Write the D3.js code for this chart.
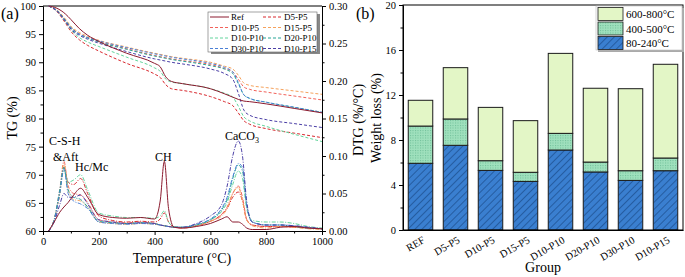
<!DOCTYPE html>
<html>
<head>
<meta charset="utf-8">
<script src="https://cdn.jsdelivr.net/npm/d3@7"></script>
<style>
  body { margin: 0; background: #fff; }
  svg text { font-family: "Liberation Serif", "DejaVu Serif", serif; }
  .tick text { font-size: 10.5px; }
</style>
</head>
<body>
<div id="chart"></div>
<script>
// ---- data, panel (a) ----
var seriesNames = ["Ref", "D5-P5", "D10-P5", "D15-P5", "D10-P10", "D20-P10", "D30-P10", "D10-P15"];
var seriesColors = ["#8b1a2e", "#d8282e", "#f2625a", "#f6a25c", "#62d49c", "#26a596", "#4a80d6", "#4b3fa6"];

var tgTemps = [20, 50, 80, 100, 130, 160, 200, 300, 400, 420, 440, 460, 500, 600, 650, 680, 700, 720, 740, 800, 900, 1000];
var tgRef    = [100, 99.6, 98.6, 97.6, 96.0, 94.8, 93.7, 91.6, 89.8, 89.2, 87.4, 86.6, 86.2, 85.3, 84.4, 83.8, 83.4, 83.1, 83.0, 82.6, 81.8, 81.0];
var tgD5P5   = [100, 99.0, 97.0, 95.5, 94.0, 93.0, 92.0, 89.8, 87.9, 87.3, 86.0, 85.3, 85.0, 83.9, 83.0, 82.3, 81.0, 79.6, 79.0, 78.2, 77.4, 76.6];
var tgD10P5  = [100, 99.2, 97.5, 96.2, 95.1, 94.4, 93.7, 92.4, 91.2, 91.0, 90.8, 90.6, 90.3, 89.6, 88.9, 88.3, 87.0, 85.6, 85.2, 84.7, 84.0, 83.3];
var tgD15P5  = [100, 99.3, 97.7, 96.4, 95.3, 94.6, 93.9, 92.7, 91.6, 91.4, 91.2, 91.0, 90.7, 90.0, 89.3, 88.8, 87.7, 86.3, 85.9, 85.5, 84.9, 84.3];
var tgD10P10 = [100, 99.1, 97.2, 95.8, 94.4, 93.6, 92.8, 90.9, 89.0, 88.4, 87.0, 86.5, 86.2, 85.3, 84.5, 83.8, 82.2, 80.3, 79.6, 78.6, 77.2, 75.9];
var tgD20P10 = [100, 99.2, 97.5, 96.2, 95.0, 94.3, 93.6, 92.3, 91.1, 90.9, 90.7, 90.5, 90.2, 89.4, 88.8, 88.0, 86.2, 84.2, 83.6, 82.9, 82.0, 81.1];
var tgD30P10 = [100, 99.2, 97.4, 96.1, 95.0, 94.4, 93.8, 92.6, 91.5, 91.3, 91.1, 90.9, 90.6, 89.8, 89.1, 88.3, 86.4, 84.2, 83.6, 82.9, 82.0, 81.1];
var tgD10P15 = [100, 99.1, 97.3, 95.9, 94.8, 94.1, 93.4, 91.9, 90.6, 90.4, 90.2, 90.0, 89.7, 88.8, 88.0, 87.0, 84.5, 81.5, 80.6, 79.8, 79.1, 78.4];

var dtgTemps = [20, 40, 60, 75, 90, 110, 135, 160, 200, 250, 300, 350, 400, 420, 435, 450, 470, 500, 550, 600, 640, 660, 680, 700, 715, 730, 750, 800, 850, 900, 950, 1000];
var dtgRef    = [0, 0.012, 0.025, 0.032, 0.038, 0.048, 0.057, 0.045, 0.022, 0.018, 0.017, 0.018, 0.016, 0.04, 0.093, 0.03, 0.005, 0.004, 0.006, 0.01, 0.016, 0.019, 0.012, 0.012, 0.009, 0.004, 0.002, 0.002, 0.005, 0.006, 0.004, 0.003];
var dtgD5P5   = [0, 0.015, 0.05, 0.085, 0.065, 0.062, 0.07, 0.05, 0.02, 0.014, 0.012, 0.013, 0.012, 0.016, 0.024, 0.012, 0.005, 0.004, 0.007, 0.013, 0.022, 0.03, 0.045, 0.052, 0.04, 0.015, 0.008, 0.006, 0.006, 0.005, 0.004, 0.003];
var dtgD10P5  = [0, 0.015, 0.055, 0.093, 0.06, 0.05, 0.048, 0.038, 0.015, 0.012, 0.011, 0.012, 0.01, 0.008, 0.007, 0.006, 0.005, 0.004, 0.007, 0.013, 0.022, 0.032, 0.05, 0.06, 0.045, 0.016, 0.008, 0.006, 0.006, 0.005, 0.004, 0.003];
var dtgD15P5  = [0, 0.015, 0.05, 0.09, 0.055, 0.042, 0.04, 0.032, 0.012, 0.01, 0.009, 0.01, 0.009, 0.008, 0.007, 0.006, 0.005, 0.004, 0.007, 0.013, 0.02, 0.03, 0.05, 0.058, 0.04, 0.015, 0.007, 0.004, 0.006, 0.005, 0.003, 0.002];
var dtgD10P10 = [0, 0.015, 0.05, 0.082, 0.065, 0.068, 0.075, 0.055, 0.024, 0.02, 0.018, 0.018, 0.017, 0.02, 0.027, 0.012, 0.006, 0.005, 0.008, 0.015, 0.026, 0.038, 0.062, 0.08, 0.07, 0.03, 0.014, 0.012, 0.012, 0.01, 0.006, 0.004];
var dtgD20P10 = [0, 0.015, 0.055, 0.085, 0.055, 0.045, 0.042, 0.032, 0.013, 0.011, 0.01, 0.011, 0.01, 0.008, 0.007, 0.006, 0.005, 0.005, 0.008, 0.015, 0.028, 0.042, 0.07, 0.088, 0.08, 0.035, 0.012, 0.008, 0.008, 0.006, 0.004, 0.003];
var dtgD30P10 = [0, 0.014, 0.05, 0.083, 0.05, 0.04, 0.036, 0.03, 0.012, 0.01, 0.009, 0.01, 0.009, 0.008, 0.007, 0.006, 0.005, 0.005, 0.009, 0.016, 0.03, 0.045, 0.072, 0.09, 0.085, 0.035, 0.012, 0.008, 0.008, 0.007, 0.005, 0.003];
var dtgD10P15 = [0, 0.012, 0.035, 0.05, 0.045, 0.045, 0.048, 0.036, 0.015, 0.012, 0.01, 0.011, 0.01, 0.008, 0.007, 0.006, 0.005, 0.005, 0.01, 0.02, 0.035, 0.06, 0.1, 0.12, 0.1, 0.04, 0.012, 0.008, 0.008, 0.007, 0.005, 0.003];

var tgSeries = [tgRef, tgD5P5, tgD10P5, tgD15P5, tgD10P10, tgD20P10, tgD30P10, tgD10P15];
var dtgSeries = [dtgRef, dtgD5P5, dtgD10P5, dtgD15P5, dtgD10P10, dtgD20P10, dtgD30P10, dtgD10P15];

// ---- data, panel (b) ----
var groups = ["REF", "D5-P5", "D10-P5", "D15-P5", "D10-P10", "D20-P10", "D30-P10", "D10-P15"];
var loss80_240  = [5.93, 7.53, 5.30, 4.32, 7.11, 5.16, 4.41, 5.27];
var loss400_500 = [3.31, 2.34, 0.86, 0.81, 1.48, 0.88, 0.86, 1.13];
var loss600_800 = [2.29, 4.56, 4.74, 4.59, 7.11, 6.56, 7.29, 8.33];
var rangeKeys = ["80-240\u00b0C", "400-500\u00b0C", "600-800\u00b0C"];

var W = 685, H = 277;
var svg = d3.select("#chart").append("svg").attr("width", W).attr("height", H);

var defs = svg.append("defs");
var hatch = defs.append("pattern").attr("id", "hatch").attr("patternUnits", "userSpaceOnUse")
  .attr("width", 5).attr("height", 5).attr("patternTransform", "rotate(45)");
hatch.append("rect").attr("width", 5).attr("height", 5).attr("fill", "#3a7fd0");
hatch.append("line").attr("x1", 0).attr("y1", 0).attr("x2", 0).attr("y2", 5)
  .attr("stroke", "#1c4c8c").attr("stroke-width", 1.4);
var dots = defs.append("pattern").attr("id", "dots").attr("patternUnits", "userSpaceOnUse")
  .attr("width", 2.5).attr("height", 2.5);
dots.append("rect").attr("width", 2.5).attr("height", 2.5).attr("fill", "#9fe0bd");
dots.append("rect").attr("width", 1).attr("height", 1).attr("fill", "#6fbf98");

// ===== panel (a) =====
var ax = {l: 43, r: 322, t: 6, b: 231};
var x = d3.scaleLinear().domain([0, 1000]).range([ax.l, ax.r]);
var yTG = d3.scaleLinear().domain([60, 100]).range([ax.b, ax.t]);
var yDTG = d3.scaleLinear().domain([0, 0.3]).range([ax.b, ax.t]);

function minorAxis(g, axis) { g.call(axis); g.selectAll("text").remove(); g.select(".domain").remove(); }

var ga = svg.append("g");
ga.append("g").attr("transform", "translate(0," + ax.b + ")")
  .call(d3.axisBottom(x).tickValues(d3.range(0, 1001, 200)).tickFormat(d3.format("d")).tickSizeOuter(0).tickSize(4).tickPadding(3));
ga.append("g").attr("transform", "translate(0," + ax.b + ")")
  .call(minorAxis, d3.axisBottom(x).tickValues(d3.range(100, 1000, 200)).tickSize(2.5));
ga.append("g").attr("transform", "translate(" + ax.l + ",0)")
  .call(d3.axisLeft(yTG).tickValues(d3.range(60, 101, 5)).tickSizeOuter(0).tickSize(4).tickPadding(3));
ga.append("g").attr("transform", "translate(" + ax.l + ",0)")
  .call(minorAxis, d3.axisLeft(yTG).tickValues(d3.range(62.5, 100, 5)).tickSize(2.5));
ga.append("g").attr("transform", "translate(" + ax.r + ",0)")
  .call(d3.axisRight(yDTG).tickValues(d3.range(0, 0.301, 0.05)).tickFormat(d3.format(".2f")).tickSizeOuter(0).tickSize(4).tickPadding(3));
ga.append("g").attr("transform", "translate(" + ax.r + ",0)")
  .call(minorAxis, d3.axisRight(yDTG).tickValues(d3.range(0.025, 0.3, 0.05)).tickSize(2.5));
ga.append("line").attr("x1", ax.l).attr("x2", ax.r).attr("y1", ax.t).attr("y2", ax.t).attr("stroke", "#000");

var plotA = ga.append("g");
var lineTG = d3.line().x(function(d) { return x(d[0]); }).y(function(d) { return yTG(d[1]); }).curve(d3.curveMonotoneX);
var lineDTG = d3.line().x(function(d) { return x(d[0]); }).y(function(d) { return yDTG(d[1]); }).curve(d3.curveMonotoneX);

// draw order: others first, Ref on top
var order = [1, 2, 3, 4, 5, 6, 7, 0];
order.forEach(function(i) {
  plotA.append("path")
    .attr("d", lineTG(tgTemps.map(function(t, k) { return [t, tgSeries[i][k]]; })))
    .attr("fill", "none").attr("stroke", seriesColors[i]).attr("stroke-width", 1)
    .attr("stroke-dasharray", i === 0 ? null : "3,2");
});
order.forEach(function(i) {
  plotA.append("path")
    .attr("d", lineDTG(dtgTemps.map(function(t, k) { return [t, dtgSeries[i][k]]; })))
    .attr("fill", "none").attr("stroke", seriesColors[i]).attr("stroke-width", 1)
    .attr("stroke-dasharray", i === 0 ? null : "4,1.5,1,1.5");
});

// annotations
var ann = ga.append("g").attr("font-size", 12);
ann.append("text").attr("x", 49).attr("y", 145).text("C-S-H");
ann.append("text").attr("x", 53).attr("y", 161).text("&Aft");
ann.append("text").attr("x", 75).attr("y", 171).text("Hc/Mc");
ann.append("text").attr("x", 155).attr("y", 161).text("CH");
var caco = ann.append("text").attr("x", 225).attr("y", 140);
caco.append("tspan").text("CaCO");
caco.append("tspan").attr("dy", 3).attr("font-size", 8).text("3");

// legend (a)
var lgA = ga.append("g");
lgA.append("rect").attr("x", 211).attr("y", 14).attr("width", 109).attr("height", 40).attr("fill", "#888");
lgA.append("rect").attr("x", 208).attr("y", 12).attr("width", 109).attr("height", 40)
  .attr("fill", "#fff").attr("stroke", "#666").attr("stroke-width", 0.6);
seriesNames.forEach(function(n, i) {
  var col = i % 2, row = Math.floor(i / 2);
  var lx = 210 + col * 53, ly = 17 + row * 10.5;
  lgA.append("line").attr("x1", lx).attr("x2", lx + 19).attr("y1", ly).attr("y2", ly)
    .attr("stroke", seriesColors[i]).attr("stroke-width", 1).attr("stroke-dasharray", i === 0 ? null : "3,2");
  lgA.append("text").attr("x", lx + 21).attr("y", ly + 3.2).attr("font-size", 9).text(n);
});

ga.append("text").attr("x", 182).attr("y", 263).attr("text-anchor", "middle").attr("font-size", 14).text("Temperature (\u00b0C)");
ga.append("text").attr("transform", "translate(17,118) rotate(-90)").attr("text-anchor", "middle").attr("font-size", 14).text("TG (%)");
ga.append("text").attr("transform", "translate(363,120) rotate(-90)").attr("text-anchor", "middle").attr("font-size", 14).text("DTG (%/\u00b0C)");
ga.append("text").attr("x", 1).attr("y", 19).attr("font-size", 16).text("(a)");

// ===== panel (b) =====
var bx = {l: 403, r: 683, t: 5, b: 230};
var xb = d3.scaleBand().domain(groups).range([bx.l, bx.r]).paddingInner(0.3).paddingOuter(0.15);
var yb = d3.scaleLinear().domain([0, 20]).range([bx.b, bx.t]);

var gb = svg.append("g");
var rows = groups.map(function(g, i) {
  return {group: g, "80-240\u00b0C": loss80_240[i], "400-500\u00b0C": loss400_500[i], "600-800\u00b0C": loss600_800[i]};
});
var stack = d3.stack().keys(rangeKeys)(rows);
var fills = {"80-240\u00b0C": "url(#hatch)", "400-500\u00b0C": "url(#dots)", "600-800\u00b0C": "#e3f6c6"};

gb.selectAll("g.layer").data(stack).enter().append("g").attr("class", "layer")
  .attr("fill", function(d) { return fills[d.key]; })
  .selectAll("rect").data(function(d) { return d; }).enter().append("rect")
  .attr("x", function(d) { return xb(d.data.group); })
  .attr("width", xb.bandwidth())
  .attr("y", function(d) { return yb(d[1]); })
  .attr("height", function(d) { return yb(d[0]) - yb(d[1]); })
  .attr("stroke", "#1a1a1a").attr("stroke-width", 1);

var xAxB = gb.append("g").attr("transform", "translate(0," + bx.b + ")")
  .call(d3.axisBottom(xb).tickSize(0).tickPadding(0));
xAxB.selectAll("text").attr("text-anchor", "end").attr("font-size", 11)
  .attr("y", 0).attr("dy", 0)
  .attr("transform", "translate(5,12) rotate(-30)");
gb.append("g").attr("transform", "translate(" + bx.l + ",0)")
  .call(d3.axisLeft(yb).tickValues(d3.range(0, 21, 4)).tickSizeOuter(0).tickSize(4).tickPadding(3));
gb.append("g").attr("transform", "translate(" + bx.l + ",0)")
  .call(minorAxis, d3.axisLeft(yb).tickValues(d3.range(2, 20, 4)).tickSize(2.5));
gb.append("rect").attr("x", bx.l).attr("y", bx.t).attr("width", bx.r - bx.l).attr("height", bx.b - bx.t)
  .attr("fill", "none").attr("stroke", "#000");

// legend (b)
var lgB = gb.append("g");
lgB.append("rect").attr("x", 598).attr("y", 8).attr("width", 86).attr("height", 44).attr("fill", "#aaa");
lgB.append("rect").attr("x", 596).attr("y", 6).attr("width", 86).attr("height", 44)
  .attr("fill", "#fff").attr("stroke", "#bbb").attr("stroke-width", 0.6);
rangeKeys.slice().reverse().forEach(function(k, i) {
  lgB.append("rect").attr("x", 598).attr("y", 7.5 + i * 14.5).attr("width", 25).attr("height", 13)
    .attr("fill", fills[k]).attr("stroke", "#1a1a1a").attr("stroke-width", 0.8);
  lgB.append("text").attr("x", 626).attr("y", 18 + i * 14.5).attr("font-size", 11).text(k);
});

gb.append("text").attr("x", 543).attr("y", 272).attr("text-anchor", "middle").attr("font-size", 14).text("Group");
gb.append("text").attr("transform", "translate(381,118) rotate(-90)").attr("text-anchor", "middle").attr("font-size", 14).text("Weight loss (%)");
gb.append("text").attr("x", 356).attr("y", 19).attr("font-size", 16).text("(b)");
</script>
</body>
</html>
